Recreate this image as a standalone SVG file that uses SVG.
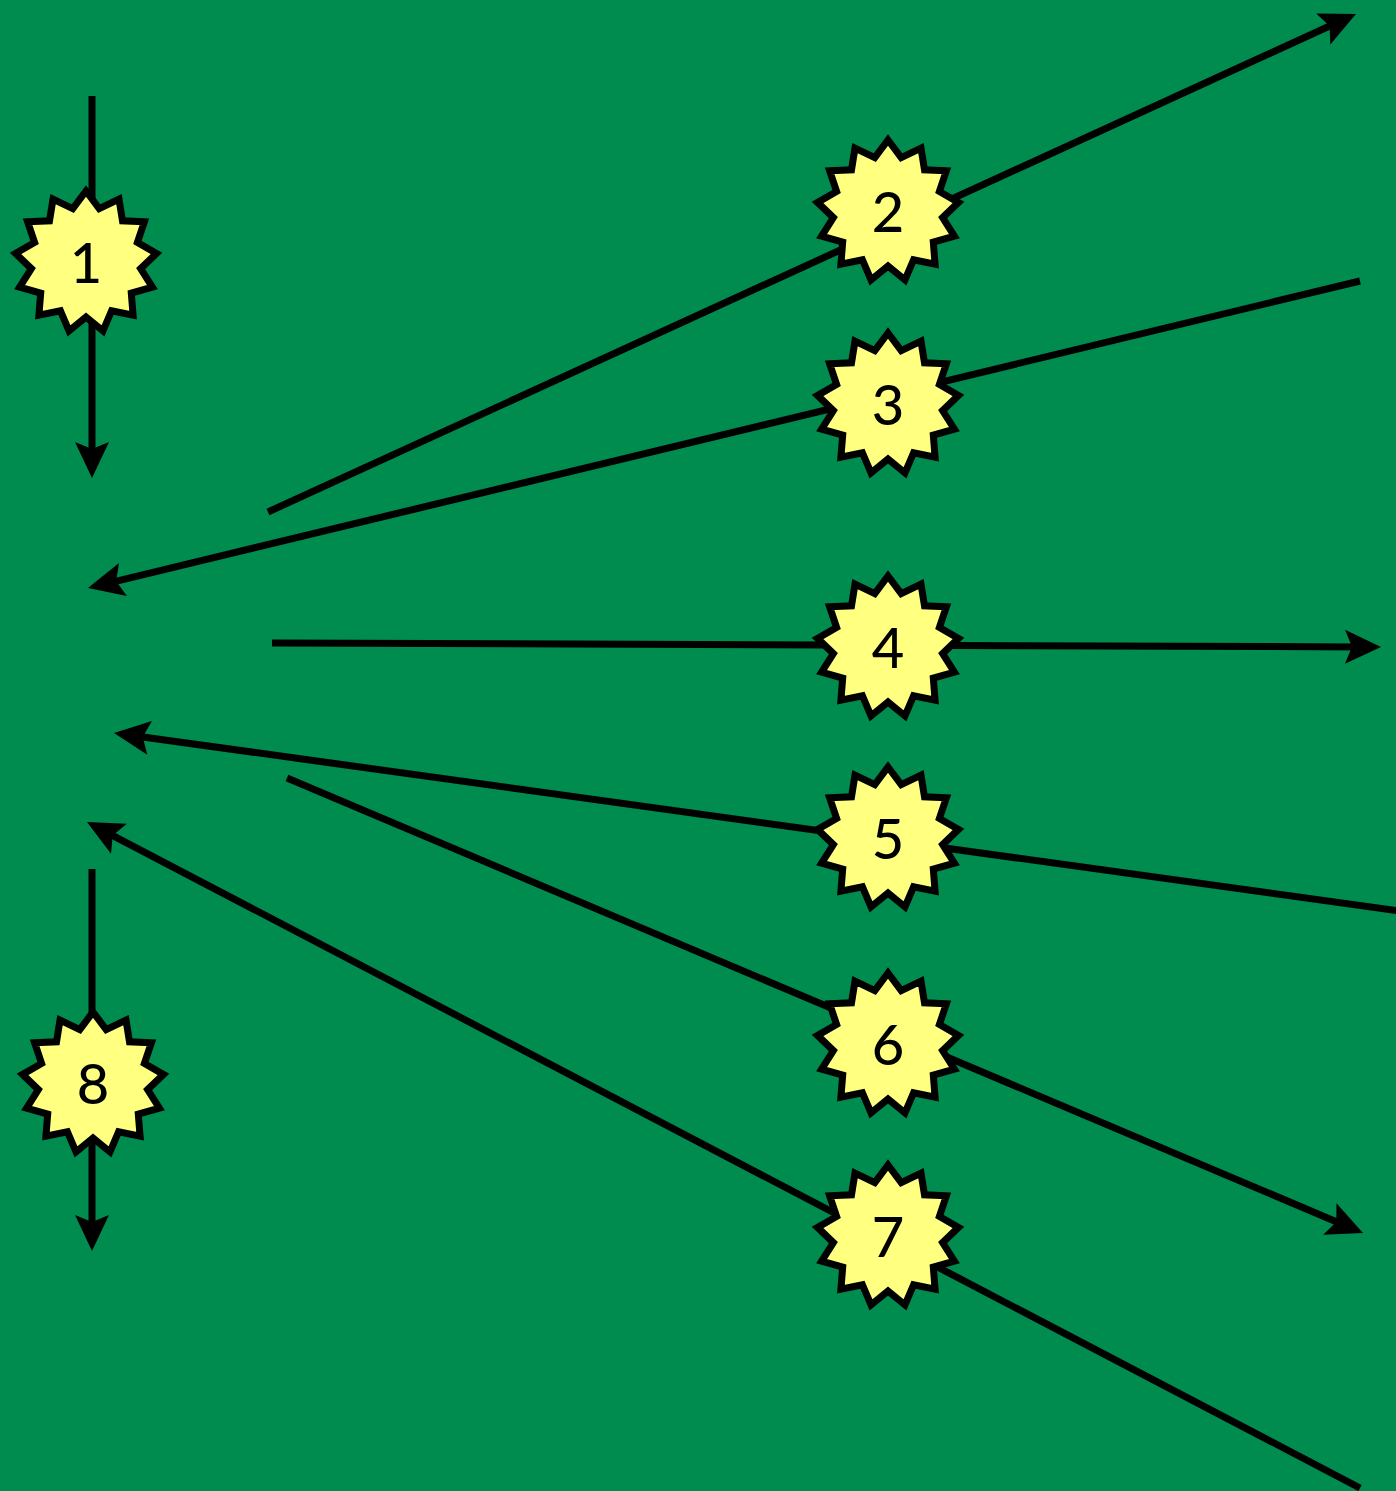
<svg xmlns="http://www.w3.org/2000/svg" xmlns:xlink="http://www.w3.org/1999/xlink" width="1396" height="1491" viewBox="0 0 1396 1491">
<style>
.ln{stroke:#000;stroke-width:7;fill:none;}
.st{fill:#FFFF80;stroke:#000;stroke-width:7;stroke-linejoin:miter;}
.lbl{font-family:Lato,"Open Sans","Liberation Sans",sans-serif;font-size:56px;font-weight:500;fill:#000;text-anchor:middle;}
</style>
<defs>
<marker id="ah" markerUnits="userSpaceOnUse" orient="auto" refX="0" refY="0" markerWidth="40" markerHeight="40" overflow="visible">
<path d="M20,0 L-16,-17 L-9,0 L-16,17 Z" fill="#000"/>
</marker>
<polygon id="star" points="0,-71 13.2,-53.4 33,-62.9 36.5,-41.2 58.4,-40.3 51.4,-19.5 70.5,-8.6 54.6,6.6 66.4,25.2 45.3,31.2 47.1,53.1 25.6,48.7 17,68.9 0,55 -17,68.9 -25.6,48.7 -47.1,53.1 -45.3,31.2 -66.4,25.2 -54.6,6.6 -70.5,-8.6 -51.4,-19.5 -58.4,-40.3 -36.5,-41.2 -33,-62.9 -13.2,-53.4"/>
</defs>
<rect x="0" y="0" width="1396" height="1491" fill="#008B4F"/>
<g id="connectors">
<path class="ln" d="M92,96 L92,458" marker-end="url(#ah)"/>
<path class="ln" d="M268,512 L1337.8,22.3" marker-end="url(#ah)"/>
<path class="ln" d="M1360,281 L107.4,583.3" marker-end="url(#ah)"/>
<path class="ln" d="M272,643 L1361,646.9" marker-end="url(#ah)"/>
<path class="ln" d="M1400,911 L133.8,735.7" marker-end="url(#ah)"/>
<path class="ln" d="M287,778 L1344.6,1225.2" marker-end="url(#ah)"/>
<path class="ln" d="M1360,1488 L104.7,831.3" marker-end="url(#ah)"/>
<path class="ln" d="M92,869 L92,1231" marker-end="url(#ah)"/>
</g>
<g id="n1"><use xlink:href="#star" href="#star" class="st" x="86" y="262"/><text class="lbl" x="86" y="283">1</text></g>
<g id="n2"><use xlink:href="#star" href="#star" class="st" x="888" y="211"/><text class="lbl" x="888" y="232">2</text></g>
<g id="n3"><use xlink:href="#star" href="#star" class="st" x="888" y="404"/><text class="lbl" x="888" y="425">3</text></g>
<g id="n4"><use xlink:href="#star" href="#star" class="st" x="888" y="647"/><text class="lbl" x="888" y="668">4</text></g>
<g id="n5"><use xlink:href="#star" href="#star" class="st" x="888" y="838"/><text class="lbl" x="888" y="859">5</text></g>
<g id="n6"><use xlink:href="#star" href="#star" class="st" x="888" y="1044"/><text class="lbl" x="888" y="1065">6</text></g>
<g id="n7"><use xlink:href="#star" href="#star" class="st" x="888" y="1236"/><text class="lbl" x="888" y="1257">7</text></g>
<g id="n8"><use xlink:href="#star" href="#star" class="st" x="93" y="1083"/><text class="lbl" x="93" y="1104">8</text></g>
</svg>
